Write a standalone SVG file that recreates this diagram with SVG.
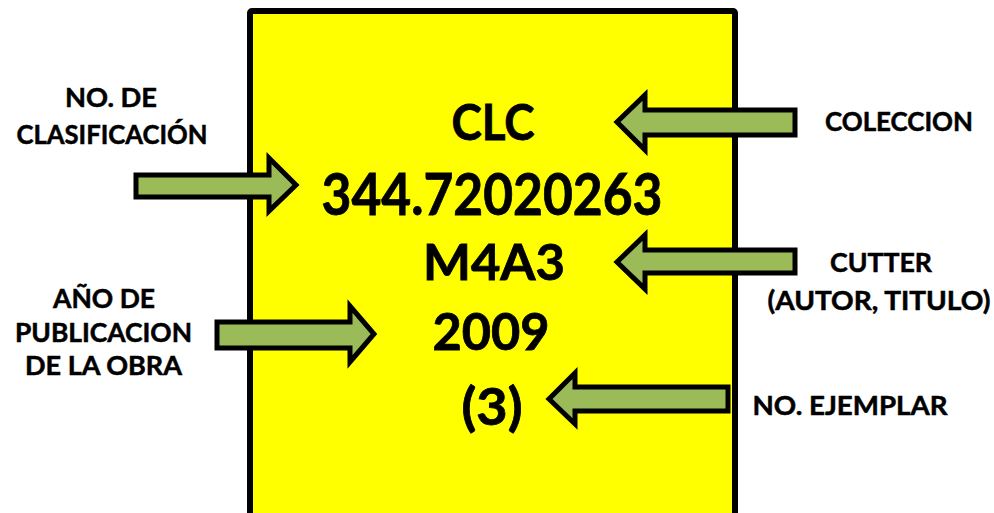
<svg xmlns="http://www.w3.org/2000/svg" width="994" height="513" viewBox="0 0 994 513">
<style>
.box{fill:#FFFF00;stroke:#000;stroke-width:6}
.arr{fill:#9BBB59;stroke:#000;stroke-width:5;stroke-linejoin:miter;stroke-miterlimit:10}
text{font-family:Lato,"Open Sans","Liberation Sans",sans-serif;font-weight:700;fill:#000;text-anchor:middle;stroke:#000;stroke-width:0.8px}
.big{font-size:49px}
.lbl{font-size:26px;stroke-width:0.5px}
</style>
<rect width="994" height="513" fill="#fff"/>
<g id="card">
<rect class="box" x="250" y="11" width="485" height="530" rx="2"/>
<text class="big" x="493" y="140" textLength="83" lengthAdjust="spacingAndGlyphs">CLC</text>
<text x="492" y="215" style="font-size:58px" textLength="341" lengthAdjust="spacingAndGlyphs">344.72020263</text>
<text class="big" x="494" y="280" textLength="142" lengthAdjust="spacingAndGlyphs">M4A3</text>
<text x="491" y="350" style="font-size:51px" textLength="117" lengthAdjust="spacingAndGlyphs">2009</text>
<text x="492" y="425" style="font-size:52px" textLength="61" lengthAdjust="spacingAndGlyphs">(3)</text>
</g>
<g id="connectors">
<path class="arr" d="M136,175 L269,175 L269,158 L296,185 L269,211 L269,197 L136,197 Z"/>
<path class="arr" d="M217,322 L350,322 L350,306 L374,334 L350,362 L350,348 L217,348 Z"/>
<path class="arr" d="M795,110 L645,110 L645,95 L617,122 L645,150 L645,135 L795,135 Z"/>
<path class="arr" d="M795,250 L645,250 L645,235 L617,262 L645,289 L645,273 L795,273 Z"/>
<path class="arr" d="M728,387 L575,387 L575,373 L549,399 L575,424 L575,411 L728,411 Z"/>
</g>
<g id="label-clasificacion">
<text class="lbl" x="111" y="107" textLength="92" lengthAdjust="spacingAndGlyphs">NO. DE</text>
<text class="lbl" x="112" y="144" textLength="191" lengthAdjust="spacingAndGlyphs">CLASIFICACIÓN</text>
</g>
<g id="label-anio">
<text class="lbl" x="104" y="308" textLength="102" lengthAdjust="spacingAndGlyphs">AÑO DE</text>
<text class="lbl" x="103.5" y="342" textLength="177" lengthAdjust="spacingAndGlyphs">PUBLICACION</text>
<text class="lbl" x="103.5" y="375" textLength="157" lengthAdjust="spacingAndGlyphs">DE LA OBRA</text>
</g>
<g id="label-coleccion">
<text class="lbl" x="899" y="131" textLength="148" lengthAdjust="spacingAndGlyphs">COLECCION</text>
</g>
<g id="label-cutter">
<text class="lbl" x="881" y="272" textLength="102" lengthAdjust="spacingAndGlyphs">CUTTER</text>
<text class="lbl" x="879" y="310" textLength="223" lengthAdjust="spacingAndGlyphs">(AUTOR, TITULO)</text>
</g>
<g id="label-ejemplar">
<text class="lbl" x="850" y="415" textLength="195" lengthAdjust="spacingAndGlyphs">NO. EJEMPLAR</text>
</g>
</svg>
